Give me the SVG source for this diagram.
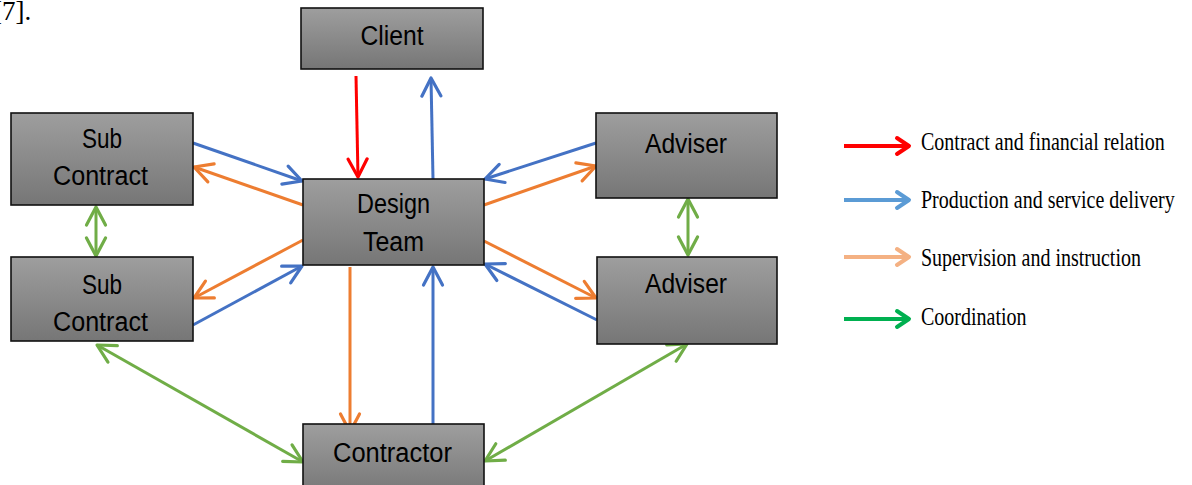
<svg xmlns="http://www.w3.org/2000/svg" width="1192" height="485" viewBox="0 0 1192 485">
  <style>
    .box { fill: url(#boxFill); stroke: #111; stroke-width: 1.6; }
    .lbl { font-family: "Liberation Sans", Arial, sans-serif; font-size: 27px; fill: #000; text-anchor: middle; }
    .leg { font-family: "Liberation Serif", "Times New Roman", serif; font-size: 20px; fill: #000; }
    .ln { fill: none; stroke-width: 3; }
    .lg { fill: none; stroke-width: 4; }
    .red { stroke: #ff0000; }
    .blue { stroke: #4472c4; }
    .orange { stroke: #ed7d31; }
    .green { stroke: #70ad47; }
  </style>
  <defs>
    <linearGradient id="boxFill" x1="0" y1="0" x2="0" y2="1">
      <stop offset="0" stop-color="#9e9e9e"/>
      <stop offset="1" stop-color="#767676"/>
    </linearGradient>
    <!-- open chevron arrowheads for the connectors -->
    <marker id="aRed" viewBox="-22 -12 26 24" refX="0" refY="0" markerWidth="26" markerHeight="24" markerUnits="userSpaceOnUse" orient="auto-start-reverse">
      <path d="M-18,-9.5 L0,0 L-18,9.5" fill="none" stroke="#ff0000" stroke-width="3.2" stroke-linecap="round" stroke-linejoin="round"/>
    </marker>
    <marker id="aBlue" viewBox="-22 -12 26 24" refX="0" refY="0" markerWidth="26" markerHeight="24" markerUnits="userSpaceOnUse" orient="auto-start-reverse">
      <path d="M-18,-9.5 L0,0 L-18,9.5" fill="none" stroke="#4472c4" stroke-width="3.2" stroke-linecap="round" stroke-linejoin="round"/>
    </marker>
    <marker id="aOrange" viewBox="-22 -12 26 24" refX="0" refY="0" markerWidth="26" markerHeight="24" markerUnits="userSpaceOnUse" orient="auto-start-reverse">
      <path d="M-18,-9.5 L0,0 L-18,9.5" fill="none" stroke="#ed7d31" stroke-width="3.2" stroke-linecap="round" stroke-linejoin="round"/>
    </marker>
    <marker id="aGreen" viewBox="-22 -12 26 24" refX="0" refY="0" markerWidth="26" markerHeight="24" markerUnits="userSpaceOnUse" orient="auto-start-reverse">
      <path d="M-18,-9.5 L0,0 L-18,9.5" fill="none" stroke="#70ad47" stroke-width="3.2" stroke-linecap="round" stroke-linejoin="round"/>
    </marker>
    <!-- legend arrowheads -->
    <marker id="lRed" viewBox="-18 -12 22 24" refX="0" refY="0" markerWidth="22" markerHeight="24" markerUnits="userSpaceOnUse" orient="auto">
      <path d="M-12,-8 L0,0 L-12,8" fill="none" stroke="#ff0000" stroke-width="4" stroke-linecap="round" stroke-linejoin="round"/>
    </marker>
    <marker id="lBlue" viewBox="-18 -12 22 24" refX="0" refY="0" markerWidth="22" markerHeight="24" markerUnits="userSpaceOnUse" orient="auto">
      <path d="M-12,-8 L0,0 L-12,8" fill="none" stroke="#5b9bd5" stroke-width="4" stroke-linecap="round" stroke-linejoin="round"/>
    </marker>
    <marker id="lOrange" viewBox="-18 -12 22 24" refX="0" refY="0" markerWidth="22" markerHeight="24" markerUnits="userSpaceOnUse" orient="auto">
      <path d="M-12,-8 L0,0 L-12,8" fill="none" stroke="#f4b183" stroke-width="4" stroke-linecap="round" stroke-linejoin="round"/>
    </marker>
    <marker id="lGreen" viewBox="-18 -12 22 24" refX="0" refY="0" markerWidth="22" markerHeight="24" markerUnits="userSpaceOnUse" orient="auto">
      <path d="M-12,-8 L0,0 L-12,8" fill="none" stroke="#00b050" stroke-width="4" stroke-linecap="round" stroke-linejoin="round"/>
    </marker>
  </defs>

  <rect width="1192" height="485" fill="#fff"/>

  <!-- citation fragment, left edge runs off the canvas -->
  <text x="-7" y="20" font-family="'Liberation Serif', 'Times New Roman', serif" font-size="27" fill="#000">[7].</text>

  <!-- connectors -->
  <g id="connectors">
    <line class="ln red" x1="356" y1="76" x2="358" y2="177" marker-end="url(#aRed)"/>
    <line class="ln blue" x1="433" y1="179" x2="431" y2="78" marker-end="url(#aBlue)"/>

    <line class="ln blue" x1="193" y1="143" x2="302" y2="181" marker-end="url(#aBlue)"/>
    <line class="ln orange" x1="303" y1="205" x2="194" y2="167" marker-end="url(#aOrange)"/>
    <line class="ln orange" x1="303" y1="240" x2="194" y2="298" marker-end="url(#aOrange)"/>
    <line class="ln blue" x1="193" y1="325" x2="302" y2="266" marker-end="url(#aBlue)"/>

    <line class="ln blue" x1="596" y1="143" x2="485" y2="179" marker-end="url(#aBlue)"/>
    <line class="ln orange" x1="484" y1="205" x2="596" y2="166" marker-end="url(#aOrange)"/>
    <line class="ln orange" x1="484" y1="241" x2="596" y2="298" marker-end="url(#aOrange)"/>
    <line class="ln blue" x1="597" y1="320" x2="485" y2="264" marker-end="url(#aBlue)"/>

    <line class="ln green" x1="96" y1="207" x2="96" y2="256" marker-start="url(#aGreen)" marker-end="url(#aGreen)"/>
    <line class="ln green" x1="688" y1="199" x2="688" y2="255" marker-start="url(#aGreen)" marker-end="url(#aGreen)"/>

    <line class="ln orange" x1="350" y1="267" x2="350" y2="432" marker-end="url(#aOrange)"/>
    <line class="ln blue" x1="433" y1="424" x2="433" y2="267" marker-end="url(#aBlue)"/>

    <line class="ln green" x1="97" y1="345" x2="303" y2="462" marker-start="url(#aGreen)" marker-end="url(#aGreen)"/>
    <line class="ln green" x1="687" y1="344" x2="485" y2="461" marker-start="url(#aGreen)" marker-end="url(#aGreen)"/>
  </g>

  <!-- nodes -->
  <g id="client">
    <rect class="box" x="301" y="8" width="182" height="61"/>
    <text class="lbl" x="392" y="45" textLength="63" lengthAdjust="spacingAndGlyphs">Client</text>
  </g>
  <g id="design-team">
    <rect class="box" x="303" y="179" width="181" height="86"/>
    <text class="lbl" x="393.5" y="213" textLength="73" lengthAdjust="spacingAndGlyphs">Design</text>
    <text class="lbl" x="393.5" y="251" textLength="61" lengthAdjust="spacingAndGlyphs">Team</text>
  </g>
  <g id="sub-contract-1">
    <rect class="box" x="11" y="113" width="182" height="92"/>
    <text class="lbl" x="102" y="148" textLength="40" lengthAdjust="spacingAndGlyphs">Sub</text>
    <text class="lbl" x="100.5" y="185" textLength="95" lengthAdjust="spacingAndGlyphs">Contract</text>
  </g>
  <g id="sub-contract-2">
    <rect class="box" x="11" y="257" width="182" height="84"/>
    <text class="lbl" x="102" y="294" textLength="40" lengthAdjust="spacingAndGlyphs">Sub</text>
    <text class="lbl" x="100.5" y="331" textLength="95" lengthAdjust="spacingAndGlyphs">Contract</text>
  </g>
  <g id="adviser-1">
    <rect class="box" x="596" y="113" width="181" height="85"/>
    <text class="lbl" x="686" y="153" textLength="82" lengthAdjust="spacingAndGlyphs">Adviser</text>
  </g>
  <g id="adviser-2">
    <rect class="box" x="597" y="257" width="180" height="87"/>
    <text class="lbl" x="686" y="293" textLength="82" lengthAdjust="spacingAndGlyphs">Adviser</text>
  </g>
  <g id="contractor">
    <rect class="box" x="303" y="424" width="181" height="72"/>
    <text class="lbl" x="392.5" y="462" textLength="119" lengthAdjust="spacingAndGlyphs">Contractor</text>
  </g>

  <!-- legend: narrow serif type, stretched vertically -->
  <g id="legend">
    <line class="lg" stroke="#ff0000" x1="844" y1="146" x2="909" y2="146" marker-end="url(#lRed)"/>
    <text class="leg" transform="translate(921 150) scale(1 1.28)">Contract and financial relation</text>
    <line class="lg" stroke="#5b9bd5" x1="844" y1="200" x2="909" y2="200" marker-end="url(#lBlue)"/>
    <text class="leg" transform="translate(921 208) scale(1 1.28)">Production and service delivery</text>
    <line class="lg" stroke="#f4b183" x1="844" y1="257" x2="909" y2="257" marker-end="url(#lOrange)"/>
    <text class="leg" transform="translate(921 266) scale(1 1.28)">Supervision and instruction</text>
    <line class="lg" stroke="#00b050" x1="844" y1="319" x2="909" y2="319" marker-end="url(#lGreen)"/>
    <text class="leg" transform="translate(921 325) scale(1 1.28)">Coordination</text>
  </g>
</svg>
